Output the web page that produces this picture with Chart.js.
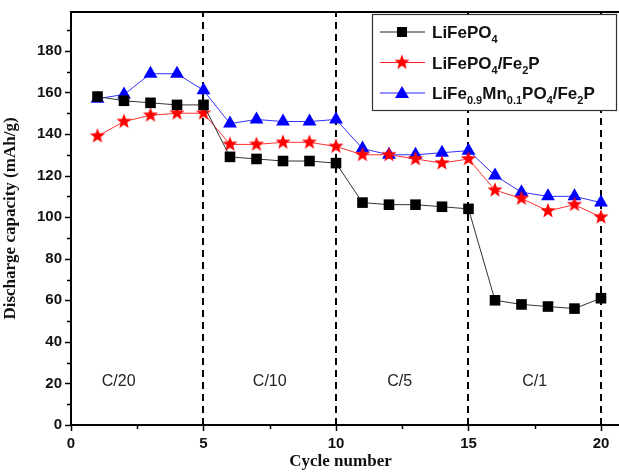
<!DOCTYPE html>
<html lang="en">
<head>
  <meta charset="UTF-8">
  <title>Discharge capacity vs cycle number</title>
  <script src="https://cdn.jsdelivr.net/npm/chart.js"></script>
  <style>
    body { margin: 0; background: #fff; }
    #wrap { width: 619px; height: 472px; }
  </style>
</head>
<body>
  <div id="wrap"><canvas id="chart"></canvas></div>
  <script>
    const cycles = [1, 2, 3, 4, 5, 6, 7, 8, 9, 10, 11, 12, 13, 14, 15, 16, 17, 18, 19, 20];
    const lfp = [158, 156, 155, 154, 154, 129, 128, 127, 127, 126, 107, 106, 106, 105, 104, 60, 58, 57, 56, 61];
    const lfpFe2p = [139, 146, 149, 150, 150, 135, 135, 136, 136, 134, 130, 130, 128, 126, 128, 113, 109, 103, 106, 100];
    const lfmpFe2p = [157, 159, 169, 169, 161, 145, 147, 146, 146, 147, 133, 130, 130, 131, 132, 120, 112, 110, 110, 107];
    const rateBounds = [5, 10, 15, 20];
    const rateLabels = ['C/20', 'C/10', 'C/5', 'C/1'];
    const rateLabelX = [1.8, 7.5, 12.4, 17.5];

    const pts = (ys) => cycles.map((c, i) => ({ x: c, y: ys[i] }));

    // filled five-point star for the red series
    function makeStar(r, color) {
      const c = document.createElement('canvas');
      c.width = c.height = r * 2 + 2;
      const g = c.getContext('2d');
      g.translate(r + 1, r + 1);
      g.beginPath();
      for (let i = 0; i < 10; i++) {
        const rad = i % 2 === 0 ? r : r * 0.42;
        const a = -Math.PI / 2 + i * Math.PI / 5;
        g.lineTo(rad * Math.cos(a), rad * Math.sin(a));
      }
      g.closePath();
      g.fillStyle = color;
      g.fill();
      return c;
    }
    const star = makeStar(8, '#ff0000');

    const legendItems = [
      { color: '#222', style: 'rect', parts: [['LiFePO', 0], ['4', 1]] },
      { color: '#ff2020', style: 'star', parts: [['LiFePO', 0], ['4', 1], ['/Fe', 0], ['2', 1], ['P', 0]] },
      { color: '#2020ff', style: 'triangle', parts: [['LiFe', 0], ['0.9', 1], ['Mn', 0], ['0.1', 1], ['PO', 0], ['4', 1], ['/Fe', 0], ['2', 1], ['P', 0]] }
    ];

    const decor = {
      id: 'decor',
      beforeDatasetsDraw(chart) {
        const { ctx, chartArea: a, scales: { x, y } } = chart;
        ctx.save();
        // dashed rate boundaries
        ctx.strokeStyle = '#000';
        ctx.lineWidth = 2;
        ctx.setLineDash([7, 5]);
        rateBounds.forEach(b => {
          const px = Math.round(x.getPixelForValue(b));
          ctx.beginPath();
          ctx.moveTo(px, a.bottom);
          ctx.lineTo(px, a.top);
          ctx.stroke();
        });
        ctx.setLineDash([]);
        // rate labels
        ctx.fillStyle = '#222';
        ctx.font = '16px "Liberation Sans", Arial, sans-serif';
        ctx.textAlign = 'center';
        ctx.textBaseline = 'middle';
        rateLabels.forEach((t, i) => ctx.fillText(t, x.getPixelForValue(rateLabelX[i]), y.getPixelForValue(21)));
        ctx.restore();
      },
      afterDraw(chart) {
        const { ctx, chartArea: a, scales: { x, y } } = chart;
        ctx.save();
        ctx.strokeStyle = '#000';
        ctx.lineWidth = 2;
        // frame
        ctx.strokeRect(a.left, a.top, a.right - a.left + 10, a.bottom - a.top);
        // ticks, major and minor, pointing out
        ctx.lineWidth = 1.5;
        for (let v = 0; v <= 190; v += 10) {
          const py = Math.round(y.getPixelForValue(v)) + 0.5;
          const len = v % 20 === 0 ? 6 : 4;
          ctx.beginPath(); ctx.moveTo(a.left - len, py); ctx.lineTo(a.left, py); ctx.stroke();
        }
        for (let v = 0; v <= 20; v += 2.5) {
          const px = Math.round(x.getPixelForValue(v)) + 0.5;
          const len = v % 5 === 0 ? 6 : 4;
          ctx.beginPath(); ctx.moveTo(px, a.bottom); ctx.lineTo(px, a.bottom + len); ctx.stroke();
        }
        // legend box
        const bx = 372, by = 14, bw = 244, bh = 96;
        ctx.fillStyle = '#fff';
        ctx.fillRect(bx, by, bw, bh);
        ctx.lineWidth = 1.2;
        ctx.strokeStyle = '#333';
        ctx.strokeRect(bx + 0.5, by + 0.5, bw, bh);
        legendItems.forEach((it, i) => {
          const ly = 32 + i * 30.5;
          ctx.strokeStyle = it.color;
          ctx.lineWidth = 1;
          ctx.beginPath(); ctx.moveTo(380, ly); ctx.lineTo(425, ly); ctx.stroke();
          ctx.fillStyle = it.color;
          if (it.style === 'rect') {
            ctx.fillStyle = '#000';
            ctx.fillRect(397, ly - 5, 10, 10);
          } else if (it.style === 'star') {
            ctx.drawImage(star, 402 - star.width / 2, ly - star.height / 2);
          } else {
            ctx.fillStyle = '#0000ff';
            ctx.beginPath();
            ctx.moveTo(402, ly - 7); ctx.lineTo(409, ly + 5); ctx.lineTo(395, ly + 5);
            ctx.closePath(); ctx.fill();
          }
          let tx = 432;
          ctx.fillStyle = '#111';
          ctx.textAlign = 'left';
          ctx.textBaseline = 'alphabetic';
          it.parts.forEach(([t, sub]) => {
            ctx.font = sub ? 'bold 11px "Liberation Sans", Arial, sans-serif' : 'bold 17px "Liberation Sans", Arial, sans-serif';
            ctx.fillText(t, tx, sub ? ly + 11 : ly + 6);
            tx += ctx.measureText(t).width;
          });
        });
        ctx.restore();
      }
    };

    new Chart(document.getElementById('chart'), {
      type: 'line',
      data: {
        datasets: [
          {
            label: 'LiFePO4',
            data: pts(lfp),
            borderColor: '#333',
            backgroundColor: '#000',
            borderWidth: 1,
            pointStyle: 'rect',
            pointRadius: 7.5,
            pointBorderWidth: 0
          },
          {
            label: 'LiFePO4/Fe2P',
            data: pts(lfpFe2p),
            borderColor: '#ff3030',
            backgroundColor: '#ff0000',
            borderWidth: 1,
            pointStyle: star,
            pointRadius: 8
          },
          {
            label: 'LiFe0.9Mn0.1PO4/Fe2P',
            data: pts(lfmpFe2p),
            borderColor: '#3030ff',
            backgroundColor: '#0000ff',
            borderWidth: 1,
            pointStyle: 'triangle',
            pointRadius: 8,
            pointBorderWidth: 0
          }
        ]
      },
      options: {
        responsive: true,
        maintainAspectRatio: false,
        animation: false,
        layout: { padding: { top: 12, right: 2, left: 0, bottom: 0 } },
        plugins: { legend: { display: false }, tooltip: { enabled: false } },
        scales: {
          x: {
            type: 'linear',
            min: 0,
            max: 20.34,
            afterBuildTicks: s => { s.ticks = [0, 5, 10, 15, 20].map(v => ({ value: v })); },
            afterFit: s => { s.height = 47; s.paddingLeft = 0; s.paddingRight = 0; },
            grid: { display: false, drawTicks: false },
            border: { display: false },
            ticks: {
              padding: 10,
              color: '#111',
              font: { family: '"Liberation Sans", Arial, sans-serif', size: 15, weight: 'bold' }
            },
            title: {
              display: true,
              text: 'Cycle number',
              color: '#111',
              padding: { top: 0, bottom: 0 },
              font: { family: '"Liberation Serif", "Times New Roman", serif', size: 17, weight: 'bold' }
            }
          },
          y: {
            min: 0,
            max: 198.7,
            afterBuildTicks: s => { s.ticks = [0, 20, 40, 60, 80, 100, 120, 140, 160, 180].map(v => ({ value: v })); },
            afterFit: s => { s.width = 71; s.paddingTop = 0; s.paddingBottom = 0; },
            grid: { display: false, drawTicks: false },
            border: { display: false },
            ticks: {
              padding: 9,
              color: '#111',
              font: { family: '"Liberation Sans", Arial, sans-serif', size: 15, weight: 'bold' }
            },
            title: {
              display: true,
              text: 'Discharge capacity (mAh/g)',
              color: '#111',
              padding: { top: 0, bottom: 2 },
              font: { family: '"Liberation Serif", "Times New Roman", serif', size: 17, weight: 'bold' }
            }
          }
        }
      },
      plugins: [decor]
    });
  </script>
</body>
</html>
